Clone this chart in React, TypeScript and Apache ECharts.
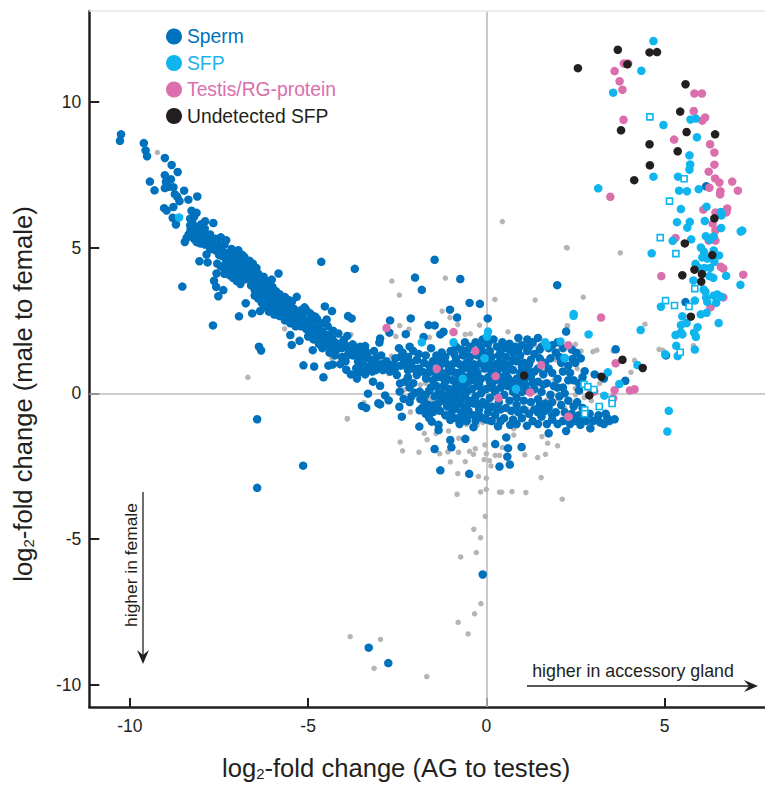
import React, { useEffect, useRef } from "react";
import * as echarts from "echarts";

const xTicks = [-10, -5, 0, 5];
const yTicks = [-10, -5, 0, 5, 10];

const undetected = [[3.69,11.78],[4.58,11.69],[4.79,11.7],[3.96,11.28],[2.57,11.15],[5.59,10.6],[5.44,9.66],[3.78,9.02],[5.62,8.96],[6.42,8.88],[4.58,8.54],[5.37,8.3],[4.59,7.82],[4.15,7.31],[6.4,6.0],[5.57,5.14],[6.34,4.74],[5.84,4.24],[6.05,4.09],[5.5,4.05],[6.03,3.83],[5.74,2.63],[3.82,1.15],[4.39,0.87],[3.23,0.57],[2.89,-0.07],[1.06,0.61]];

const sfpSquares = [[4.59,9.48],[5.55,7.36],[5.14,6.59],[4.88,5.34],[5.32,4.79],[5.85,3.59],[5.03,3.18],[5.28,3.01],[5.69,2.98],[5.44,1.41],[2.74,0.31],[2.85,0.23],[3.02,0.13],[3.53,-0.21],[3.53,-0.35],[3.17,-0.45],[2.76,-0.57],[2.76,-0.7]];

const sfp = [[4.69,12.08],[4.35,11.06],[3.56,10.31],[4.97,9.2],[5.73,9.39],[5.88,9.42],[5.91,8.78],[5.7,8.16],[5.72,7.85],[5.7,7.67],[4.69,7.43],[5.38,7.43],[3.14,7.03],[5.41,6.95],[5.63,6.93],[5.96,7.0],[5.46,6.32],[6.18,6.4],[6.58,6.22],[6.6,6.1],[5.35,5.87],[5.71,5.88],[5.64,5.68],[6.13,5.91],[6.59,5.67],[7.14,5.55],[7.18,5.58],[5.23,5.23],[5.75,5.28],[6.16,5.39],[6.38,5.38],[6.27,5.27],[6.02,5.0],[4.64,4.8],[6.11,4.85],[6.38,4.9],[6.53,4.73],[6.06,4.66],[6.2,4.62],[5.87,4.44],[6.4,4.51],[5.96,4.3],[6.12,4.3],[6.28,4.3],[6.73,4.03],[6.26,4.02],[6.37,3.96],[5.81,3.87],[7.13,3.72],[6.1,3.56],[6.15,3.48],[6.38,3.35],[6.48,3.39],[6.6,3.31],[6.17,3.28],[5.85,3.18],[6.45,3.1],[6.2,3.14],[4.9,2.97],[6.18,2.76],[6.02,2.71],[5.5,2.64],[5.62,2.41],[5.46,2.34],[6.52,2.41],[5.93,2.27],[4.33,2.17],[5.46,2.09],[5.31,2.0],[5.5,2.02],[5.83,2.08],[5.88,1.94],[2.45,2.72],[2.45,2.66],[2.87,2.02],[5.33,1.63],[5.85,1.5],[5.02,1.34],[5.37,1.28],[4.24,0.97],[3.41,0.72],[3.73,0.32],[3.31,-0.08],[5.12,-0.6],[5.08,-1.31],[2.2,1.2],[-8.62,6.03],[-1.81,1.75],[-0.92,1.75],[0.05,2.12],[0.02,1.95],[-0.05,1.2],[-0.66,0.5],[0.83,0.15],[1.7,1.62],[1.65,1.75],[2.08,1.78],[2.2,1.22]];

const testis = [[3.86,11.31],[3.98,11.31],[3.6,11.05],[3.74,10.7],[3.82,10.41],[5.84,10.28],[6.05,10.28],[5.82,9.68],[6.14,9.46],[6.06,9.35],[3.85,9.38],[5.27,8.7],[6.28,8.54],[6.4,8.26],[6.4,7.84],[6.24,7.6],[6.42,7.37],[6.54,7.23],[6.9,7.26],[6.26,7.05],[7.06,6.95],[6.57,6.93],[6.56,6.82],[3.48,6.74],[6.09,6.3],[6.76,6.34],[6.43,6.2],[6.74,6.21],[5.31,5.33],[4.91,4.02],[7.21,4.07],[6.58,4.34],[6.65,4.28],[6.65,3.29],[6.29,2.95],[3.22,2.6],[3.63,1.03],[3.6,0.11],[4.03,0.1],[4.16,0.14],[3.03,0.06],[3.56,-0.17],[2.31,-0.8],[6.35,5.82],[6.43,5.59],[6.24,5.24],[6.43,5.24],[-2.8,2.24],[-1.39,0.84],[-0.92,2.1],[-0.31,1.45],[0.26,0.59],[1.54,0.97],[1.23,0.03],[0.34,-0.16],[2.3,1.65],[2.3,-0.8]];

const other = [[-9.23,8.26],[-6.69,0.55],[0.45,5.89],[2.25,5.0],[-3.9,-0.86],[2.27,4.99],[3.76,4.82],[2.72,3.3],[4.45,2.37],[2.28,2.32],[2.5,1.68],[2.29,1.63],[2.99,1.43],[3.1,1.48],[3.56,1.45],[4.85,1.51],[4.95,1.48],[5.81,1.64],[4.16,1.13],[4.06,0.72],[3.18,0.34],[2.66,1.45],[-0.82,-3.46],[-0.16,-3.38],[0,-3.29],[0.37,-3.39],[-0.03,-4.22],[-0.35,-4.66],[-0.16,-4.95],[-0.28,-5.46],[-0.72,-5.61],[-0.15,-7.21],[-0.33,-7.56],[-0.79,-7.85],[-0.51,-8.25],[-3.82,-8.34],[-2.97,-8.44],[-3.15,-9.43],[-1.67,-9.71],[-2.65,3.85],[-1.15,3.95],[-2.44,3.37],[0.24,3.22],[1.37,3.2],[-1.24,2.82],[-1.02,2.6],[-4.41,2.27],[-5.66,2.21],[-3.8,2.02],[-2.43,2.32],[-2.17,2.2],[-2.54,1.95],[-1.6,1.92],[-0.59,2.02],[-0.8,2.36],[-0.19,2.34],[-0.45,2.04],[0.61,2.11],[-4.34,1.22],[-4.1,1.2],[-2.66,1.28],[-2.74,0.68],[-3.9,-0.88],[-3.43,-0.32],[-2.13,-0.64],[-1.74,-1.37],[-1.66,-1.59],[-2.42,-1.67],[-2.35,-1.97],[-1.89,-2.02],[-1.41,-1.38],[-1.06,-1.29],[-0.77,-1.54],[-1.31,-2.07],[-1.08,-2.01],[-0.78,-2.02],[-0.47,-1.99],[-0.31,-1.9],[-0.36,-2.09],[-0.04,-1.77],[0,-2.07],[-0.06,-2.27],[0.09,-2.31],[0.13,-2.49],[0.25,-2.13],[0.37,-2.13],[0.45,-1.86],[0.77,-1.43],[1.08,-2.11],[1.44,-2.2],[1.66,-2.09],[2.0,-1.8],[1.72,-1.71],[1.56,-1.48],[-1.01,-2.35],[-0.59,-2.34],[-0.8,-2.75],[-0.22,-2.85],[0,-2.91],[1.54,-2.89],[0.43,-3.39],[0.72,-3.37],[1.11,-3.4],[2.13,-3.63],[-1.85,0.29],[-1.7,0.34],[1.7,-0.23],[2.03,-0.2],[2.5,0.17],[2.5,-0.05],[2.31,1.63],[2.27,2.32],[-0.56,-1.06],[-0.26,-1.09],[0.07,-0.99],[0.77,-1.21],[1.61,0.75],[1.9,0.45],[1.15,-0.55],[0.9,1.75],[1.35,1.65],[-0.1,-1.0],[-1.3,0.15],[2.9,0.1],[2.95,-0.25],[2.65,0.05],[2.75,-0.15],[2.55,0.85],[1.95,1.15],[-2.3,0.12],[-1.55,-0.2],[2.2,-0.5]];

const sperm = [[-10.25,8.88],[-10.28,8.66],[-9.61,8.58],[-9.56,8.33],[-9.52,8.13],[-9.02,8.07],[-8.83,7.83],[-8.66,7.59],[-9.02,7.48],[-8.85,7.34],[-9.44,7.26],[-8.99,7.25],[-8.92,7.08],[-9.02,7.04],[-8.78,7.07],[-9.31,6.96],[-8.48,6.95],[-8.74,6.83],[-8.67,6.74],[-8.11,6.75],[-8.36,6.64],[-8.61,6.59],[-8.78,6.39],[-9.04,6.35],[-8.97,6.27],[-8.27,6.26],[-8.13,6.19],[-8.8,6.02],[-8.31,5.99],[-8.2,6.05],[-7.89,5.9],[-7.66,5.84],[-8.71,5.79],[-8.31,5.76],[-7.95,5.8],[-7.45,5.35],[-8.41,5.33],[-8.46,5.19],[-8.13,5.19],[-7.71,5.29],[-8.03,5.14],[-7.68,5.08],[-7.61,4.91],[-7.85,4.76],[-8.05,4.53],[-7.82,4.49],[-7.38,4.85],[-6.96,4.91],[-6.79,4.68],[-7.02,4.75],[-6.55,4.45],[-7.57,4.11],[-7.64,3.86],[-7.58,3.65],[-7.38,3.54],[-7.52,3.33],[-8.53,3.66],[-5.83,4.11],[-6.02,3.9],[-6.75,3.09],[-6.94,2.64],[-6.57,2.74],[-6.35,2.82],[-7.67,2.33],[-6.32,1.47],[-6.38,1.6],[-6.43,-0.89],[-5.14,-2.48],[-6.43,-3.24],[-3.3,-8.72],[-2.75,-9.25],[-0.1,-6.21],
[-8.3,5.6],[-8.2,5.5],[-8.25,5.85],[-8.15,5.7],[-8.05,5.6],[-8.1,5.45],[-8.0,5.8],[-7.95,5.5],[-8.35,5.45],[-7.9,5.65],[-8.2,5.3],[-8.0,5.25],[-7.85,5.35],[-7.8,5.15],[-7.7,5.1],[-7.6,5.05],[-7.75,4.95],[-7.55,4.9],[-7.45,4.95],[-7.5,4.75],[-7.4,4.7],[-7.3,4.8],[-7.25,4.65],[-7.3,4.5],[-7.2,4.55],[-7.1,4.65],[-7.15,4.4],[-7.05,4.5],[-7.0,4.35],[-6.95,4.6],[-6.9,4.3],[-6.85,4.45],[-7.1,4.2],[-7.0,4.1],[-6.9,4.05],[-6.8,4.2],[-6.75,4.1],[-6.7,4.3],[-6.65,4.0],[-6.8,3.9],[-6.6,3.85],[-6.55,4.1],[-6.5,3.95],[-6.45,3.8],[-6.6,3.7],[-6.4,3.65],[-6.5,3.55],[-6.3,3.75],[-6.35,3.5],[-6.25,3.6],[-6.2,3.4],[-6.3,3.3],[-6.15,3.55],[-6.1,3.3],[-6.05,3.45],[-6.0,3.2],[-6.15,3.15],[-5.95,3.35],[-5.9,3.1],[-6.05,3.0],[-5.85,3.25],[-5.8,3.0],[-5.75,2.9],[-5.9,2.85],[-5.7,3.1],[-5.65,2.8],[-5.55,2.95],[-5.6,2.65],[-5.5,2.75],[-5.4,2.9],[-5.45,2.55],[-5.35,2.6],[-5.3,2.75],[-5.32,3.31],[-5.05,2.85],[-5.25,2.45],[-5.15,2.6],[-5.2,2.3],[-5.1,2.4],[-5.0,2.5],[-5.05,2.2],[-4.95,2.3],[-4.85,2.4],[-4.9,2.1],[-4.8,2.2],[-4.75,2.0],[-4.7,2.25],[-4.65,1.95],[-4.6,2.1],[-4.55,1.8],[-4.5,2.0],[-4.45,1.65],[-4.4,1.85],[-4.35,1.6],[-4.25,1.75],[-4.2,1.5],[-4.1,1.7],[-4.05,1.55],[-3.95,1.65],
[-7.9,5.1],[-7.75,5.45],[-7.6,5.3],[-7.55,5.15],[-7.35,5.1],[-7.3,5.25],[-7.15,4.95],[-7.2,4.75],[-7.05,4.85],[-7.55,4.45],[-7.45,4.35],[-7.35,4.3],[-7.25,4.25],[-7.35,4.1],[-7.2,4.05],[-7.1,3.95],[-7.0,3.85],[-6.9,3.75],[-6.85,4.75],[-6.75,4.45],[-6.65,4.55],[-6.6,4.25],[-6.45,4.3],[-6.4,4.1],[-6.35,3.95],[-6.25,4.0],[-6.15,3.85],[-6.1,3.7],[-6.0,3.65],[-5.9,3.5],[-5.8,3.4],[-5.65,3.3],[-5.55,3.2],[-5.45,3.15],[-6.5,3.35],[-6.4,3.25],[-6.3,3.1],[-6.2,2.95],[-6.1,2.8],[-5.95,2.7],[-5.8,2.65],[-5.65,2.5],[-5.5,2.4],[-5.35,2.3],[-5.2,2.85],[-5.1,2.95],[-4.95,2.75],[-4.85,2.65],[-4.75,2.55],[-4.6,2.4],[-4.45,2.3],[-4.3,2.15],[-4.15,2.05],[-5.0,1.95],[-4.85,1.85],[-4.7,1.7],[-4.6,1.55],[-4.4,1.4],[-4.25,1.3],[-4.05,1.25],[-3.85,1.45],[-3.7,1.5],[-3.55,1.4],[-3.35,1.4],[-3.15,1.45],[-2.95,1.3],[-2.8,1.1],[-2.75,0.95],[-3.3,0.9],[-3.45,0.75],[-3.6,0.7],[-3.8,0.65],[-3.95,1.1],[-4.1,1.0],
[-5.5,2.0],[-5.24,1.8],[-5.46,1.66],[-4.87,1.48],[-5.13,0.96],[-4.83,0.92],[-4.43,0.95],[-4.31,0.99],[-4.57,0.55],[-3.93,0.81],[-3.65,0.86],[-3.63,0.51],[-3.4,0.65],[-3.18,0.4],[-2.98,0.26],[-3.32,-0.01],[-3.49,-0.43],[-3.37,-0.5],[-3.03,-0.34],[-2.98,-0.38],[-2.84,-0.07],[-2.74,-0.24],[-2.43,0.06],[-2.32,-0.19],[-2.44,-0.46],[-2.37,-0.8],[-2.56,0.86],[-2.51,0.63],[-2.42,0.34],[-2.28,0.4],[-1.95,0.63],[-1.69,0.51],[-2.0,0.02],[-1.87,0.06],[-1.87,-0.58],[-1.62,-0.4],[-1.48,-0.63],
[-4.63,4.51],[-3.69,4.27],[-1.45,4.58],[-2.0,3.97],[-0.73,3.92],[-1.81,3.55],[1.99,3.71],[-0.47,3.1],[-0.18,3.07],[-1.02,2.87],[-0.82,2.6],[0.04,2.57],[-2.12,2.57],[-3.88,2.65],[-3.78,2.57],[-2.7,2.5],[-4.53,2.98],[-4.33,2.82],[-4.48,2.53],[-4.8,2.63],[-1.62,2.34],[-1.45,2.33],[-1.2,2.11],[-1.29,2.02],[-1.76,1.93],[-2.26,2.03],[-2.72,2.08],[-2.98,1.88],[-3.0,1.74],[-3.75,1.68],[-3.54,1.6],[-3.4,1.62],[-3.9,1.97],[-4.0,1.83],[-4.38,2.02],[-4.33,1.88],
[-3.9,1.3],[-3.75,1.3],[-3.6,1.1],[-3.5,1.2],[-3.45,1.0],[-3.3,1.2],[-3.2,1.05],[-3.1,1.2],[-3.05,0.95],[-2.95,1.0],[-3.55,0.95],[-3.65,1.35],[-3.1,0.8],[-3.2,0.75],[-2.9,0.8],[-2.7,0.75],[-2.6,1.0],[-2.4,0.95],[-2.3,1.1],[-2.2,1.25],[-2.45,1.55],[-2.35,1.4],[-2.15,1.6],[-2.05,1.45],[-1.9,1.35],[-1.95,1.15],[-2.1,1.05],[-1.7,1.3],[-1.55,1.55],[-1.4,1.3],[-1.25,1.4],[-1.75,1.05],[-1.6,0.95],[-1.5,1.1],[-2.2,0.8],[-2.05,0.85],[-1.4,0.55],[-1.25,0.7],[-1.3,0.95],[-1.15,1.05],[-1.55,0.2],[-1.4,0.25],
[-2.55,1.2],[-2.4,1.25],[-2.25,0.95],[-2.2,0.55],[-2.05,0.35],[-1.9,0.85],[-1.8,0.75],[-1.65,0.7],[-1.55,0.75],[-1.5,0.45],[-1.35,1.15],[-1.2,0.25],[-1.15,0.4],[-1.35,0.0],[-1.7,-0.05],[-1.75,-0.25],[-1.6,-0.55],[-1.45,-0.4],[-1.8,-0.5],[-2.15,-0.3],[-1.25,-0.15],[-1.1,-0.1],[-0.95,-0.15],[-0.8,-0.15],[-0.6,-0.1],[-0.35,-0.35],
[-1.6,0.1],[-1.45,-0.1],[-1.25,0.0],[-1.2,-0.25],[-1.05,0.15],[-1.0,-0.05],[-1.35,-0.35],[-1.1,-0.45],[-0.95,-0.3],[-0.9,-0.55],[-1.3,-0.6],[-1.15,-0.75],[-1.0,-0.7],[-0.85,-0.85],[-1.01,-0.91],[-0.7,-0.65],[-0.7,-0.9],[-0.55,-0.85],[-0.5,-0.6],[-0.36,-1.16],[-0.35,-0.75],[-0.3,-0.95],[-0.1,-0.85],[-0.2,-0.55],[0.05,-0.65],[0.33,-1.13],[0.25,-0.75],[0.4,-0.55],[0.15,-0.95],[0.5,-0.85],[0.67,-1.08],[0.75,-0.9],[0.85,-1.05],[1.14,-1.11],[1.0,-0.85],[0.9,-0.65],[1.3,-0.95],[1.45,-1.05],[1.2,-0.7],[1.55,-0.8],[1.75,-1.37],[1.7,-1.05],[1.85,-0.9],[2.0,-1.05],[2.24,-1.29],[2.15,-0.95],[2.35,-1.05],[2.5,-0.95],[2.64,-1.08],[2.8,-0.95],[2.92,-1.2],[3.1,-0.9],[3.3,-1.05],[3.45,-0.95],[3.6,-0.89],[2.6,-0.75],[2.4,-0.7],[2.9,-0.7],[3.15,-0.75],[3.35,-0.7],[1.95,-0.65],[1.65,-0.6],[2.2,-0.65],
[-0.9,0.0],[-0.85,0.25],[-0.75,0.1],[-0.7,-0.2],[-0.6,0.3],[-0.55,0.05],[-0.45,-0.25],[-0.4,0.15],[-0.3,-0.1],[-0.25,0.25],[-0.15,0.0],[-0.1,-0.3],[0.0,0.15],[0.1,-0.15],[0.15,0.3],[0.25,0.05],[0.35,-0.3],[0.4,0.2],[0.5,-0.05],[0.6,0.25],[0.65,-0.25],[0.75,0.05],[0.85,-0.15],[0.95,0.2],[1.05,-0.25],[1.15,0.1],[1.25,-0.3],[1.35,0.15],[1.45,-0.2],[1.55,0.05],[1.65,-0.35],[1.8,-0.05],[1.9,0.25],[2.05,-0.1],[2.15,0.2],[2.3,-0.25],[2.45,0.45],[2.6,0.35],[2.7,0.55],[2.76,0.76],[3.04,0.65],[3.3,0.51],[3.9,0.43],[3.63,1.51],[2.24,2.12],[2.53,1.39],[2.42,1.18],[5.59,3.13],[5.04,1.3],[6.17,7.1],
[-0.95,0.45],[-0.85,0.7],[-0.75,0.5],[-0.65,0.85],[-0.55,0.55],[-0.45,0.8],[-0.35,0.45],[-0.25,0.7],[-0.15,0.5],[-0.05,0.85],[0.05,0.55],[0.15,0.75],[0.25,0.45],[0.35,0.85],[0.45,0.55],[0.55,0.75],[0.65,0.45],[0.75,0.8],[0.85,0.5],[0.95,0.7],[1.05,0.45],[1.15,0.85],[1.25,0.55],[1.35,0.75],[1.45,0.4],[1.6,0.65],[1.7,0.35],[1.85,0.7],[2.0,0.5],[2.15,0.75],[2.3,0.45],[1.75,0.85],[2.1,1.05],[2.3,0.95],
[-1.1,0.5],[-1.05,0.85],[-0.95,1.0],[-0.85,1.2],[-0.75,1.0],[-0.65,1.3],[-0.55,1.05],[-0.45,1.25],[-0.35,1.0],[-0.25,1.3],[-0.15,1.05],[-0.05,1.4],[0.05,1.05],[0.15,1.25],[0.25,1.0],[0.35,1.3],[0.45,1.05],[0.55,1.25],[0.65,1.0],[0.75,1.4],[0.85,1.1],[0.95,1.3],[1.05,1.05],[1.15,1.45],[1.25,1.15],[1.35,1.35],[1.5,1.2],[1.65,1.05],[1.8,1.2],[1.95,1.4],[2.05,1.25],
[-1.0,1.45],[-0.85,1.6],[-0.7,1.5],[-0.6,1.75],[-0.45,1.6],[-0.3,1.75],[-0.15,1.6],[-0.1,1.85],[0.05,1.7],[0.2,1.85],[0.3,1.6],[0.45,1.75],[0.5,1.55],[0.65,1.7],[0.8,1.6],[0.9,1.9],[1.0,1.65],[1.15,1.85],[1.3,1.75],[1.45,1.9],[1.55,1.6],[1.85,1.65],[2.0,1.75],[2.15,1.55],
[-0.75,-0.35],[-0.5,-0.35],[-0.2,-0.45],[0.15,-0.45],[0.55,-0.5],[0.85,-0.4],[1.35,-0.55],[1.75,-0.5],[-1.7,-0.7],[-1.6,-0.85],[-1.88,-1.14],[-1.53,-0.97],[-1.34,-1.08],[-1.34,-1.26],[-1.01,-1.6],[-0.59,-1.56],[-0.98,-1.85],[-1.45,-1.91],[0.25,-1.74],[0.56,-1.51],[0.61,-1.88],[0.99,-1.84],[0.59,-2.17],[0.37,-2.51],[0.66,-2.44],[-1.29,-2.64],[-0.48,-2.76],[-2.1,-0.1],[-2.15,0.2],[-1.85,-0.2],
[-0.8,0.35],[-0.65,0.15],[-0.5,0.4],[-0.4,0.65],[-0.2,0.3],[-0.1,0.1],[0.1,0.4],[0.2,0.15],[0.3,0.65],[0.45,0.35],[0.6,0.55],[0.7,0.3],[0.9,0.4],[1.0,0.05],[1.1,0.3],[1.2,0.65],[1.3,0.35],[-0.95,0.75],[-0.7,0.75],[-0.5,1.0],[-0.3,0.85],[-0.1,1.0],[0.1,0.9],[0.35,1.05],[0.55,0.95],[0.75,1.15],[1.0,0.9],[1.2,1.0],[1.45,0.85],[-0.9,1.35],[-0.55,1.45],[-0.2,1.45],[0.1,1.45],[0.4,1.45],[0.65,1.5],[0.9,1.5],[1.2,1.6],[-1.25,0.55],[-1.1,0.7],[-1.15,1.25],[-1.05,-0.25],[-0.6,-0.45],[-0.3,-0.3],[0.0,-0.4],[0.25,-0.5],[0.7,-0.6],[1.05,-0.55],[-0.85,-0.45],[-0.6,-0.7],[-0.2,-0.75],[0.0,-0.9],[0.4,-0.95],[1.45,-0.65],[1.5,-0.4],[1.85,-0.3],[2.1,-0.4],[2.45,-0.45],[2.7,-0.5],[2.55,-0.3],[3.0,-0.95],[3.2,-1.0],[3.4,-0.85],[2.7,-0.85],[2.25,-0.9],[1.85,-0.75],[-0.75,-1.05],[-0.55,-0.95],[1.6,0.3],[2.0,0.2],[2.2,0.0],[2.6,0.1],[2.35,0.7],[1.5,1.5],[1.75,1.55],[2.4,1.5],[2.5,1.05],[2.65,1.2]];

export default function App() {
  const ref = useRef<HTMLDivElement>(null);
  useEffect(() => {
    const chart = echarts.init(ref.current!, undefined, { renderer: "svg" });
    const sans = '"Liberation Sans", Arial, sans-serif';
    const scatter = (name: string, data: number[][], color: string, size: number, z: number) => ({
      name, type: "scatter", data, symbol: "circle", symbolSize: size, z,
      itemStyle: { color, opacity: 1 }, silent: true,
    });
    const nameRich = {
      t: { fontSize: 25.6, fontFamily: sans, color: "#231f20" },
      s: { fontSize: 15, fontFamily: sans, color: "#231f20", verticalAlign: "bottom", padding: [10, 0, 0, 0], lineHeight: 24 },
    };
    chart.setOption({
      animation: false,
      backgroundColor: "#fff",
      grid: { left: 89.3, right: 0, top: 11, bottom: 76, containLabel: false },
      xAxis: {
        type: "value", min: -11.14, max: 7.82, position: "bottom",
        axisLine: { show: true, onZero: false, lineStyle: { color: "#231f20", width: 2.5 } },
        axisTick: { show: true, inside: true, length: 9, lineStyle: { color: "#231f20", width: 2 }, customValues: xTicks },
        axisLabel: { fontSize: 17.5, fontFamily: sans, color: "#231f20", margin: 10, customValues: xTicks },
        splitLine: { show: false },
        name: "{t|log}{s|2}{t|-fold change (AG to testes)}",
        nameLocation: "middle", nameGap: 48,
        nameTextStyle: { rich: nameRich, fontSize: 25.6, padding: [0, 62, 0, 0] },
      },
      yAxis: {
        type: "value", min: -10.755, max: 13.11, position: "left",
        axisLine: { show: true, onZero: false, lineStyle: { color: "#231f20", width: 2.5 } },
        axisTick: { show: true, inside: true, length: 10, lineStyle: { color: "#231f20", width: 2 }, customValues: yTicks },
        axisLabel: { fontSize: 17.5, fontFamily: sans, color: "#231f20", margin: 8, customValues: yTicks },
        splitLine: { show: false },
        name: "{t|log}{s|2}{t|-fold change (male to female)}",
        nameLocation: "middle", nameGap: 53, nameRotate: 90,
        nameTextStyle: { rich: nameRich, fontSize: 25.6, padding: [0, 70, 0, 0] },
      },
      legend: {
        show: true, orient: "vertical", left: 161, top: 22, itemWidth: 16, itemHeight: 16, itemGap: 7.5,
        icon: "circle", selectedMode: false,
        itemStyle: { opacity: 1 },
        textStyle: { fontSize: 19.3, fontFamily: sans },
        data: [
          { name: "Sperm", textStyle: { color: "#0071bc" } },
          { name: "SFP", textStyle: { color: "#1ab4eb" } },
          { name: "Testis/RG-protein", textStyle: { color: "#db6eac" } },
          { name: "Undetected SFP", textStyle: { color: "#231f20" } },
        ],
      },
      series: [
        {
          ...scatter("Other", other, "#b5b5b8", 5.5, 2),
          markLine: {
            silent: true, symbol: "none", animation: false, z: 1,
            label: { show: false },
            lineStyle: { color: "#bcbcbe", width: 1.6, type: "solid" },
            data: [{ xAxis: 0 }, { yAxis: 0 }],
          },
        },
        scatter("Sperm", sperm, "#0071bc", 8.5, 3),
        scatter("Testis/RG-protein", testis, "#db6eac", 8.5, 4),
        scatter("SFP", sfp, "#0fb5ee", 8.5, 5),
        {
          name: "SFP square", type: "scatter", data: sfpSquares, symbol: "rect", symbolSize: 6, z: 5, silent: true,
          itemStyle: { color: "#fff", opacity: 1, borderColor: "#0fb5ee", borderWidth: 1.6 },
        },
        scatter("Undetected SFP", undetected, "#231f20", 8.5, 6),
      ],
      graphic: [
        { type: "line", z: 10, shape: { x1: 89, y1: 11, x2: 765, y2: 11 }, style: { stroke: "#e6e6e6", lineWidth: 1.5 } },
        { type: "line", z: 10, shape: { x1: 143, y1: 492, x2: 143, y2: 656 }, style: { stroke: "#231f20", lineWidth: 1.3 } },
        { type: "polygon", z: 10, shape: { points: [[137, 650], [143, 655], [149, 650], [143, 664]] }, style: { fill: "#231f20" } },
        { type: "text", z: 10, x: 131, y: 565, rotation: Math.PI / 2, originX: 0, originY: 0,
          style: { text: "higher in female", fontSize: 17.4, fontFamily: sans, fill: "#231f20", align: "center", verticalAlign: "middle" } },
        { type: "line", z: 10, shape: { x1: 527, y1: 686, x2: 750, y2: 686 }, style: { stroke: "#231f20", lineWidth: 1.3 } },
        { type: "polygon", z: 10, shape: { points: [[744, 680], [749, 686], [744, 692], [758, 686]] }, style: { fill: "#231f20" } },
        { type: "text", z: 10, x: 633, y: 671,
          style: { text: "higher in accessory gland", fontSize: 17.8, fontFamily: sans, fill: "#231f20", align: "center", verticalAlign: "middle" } },
      ],
    });
    return () => chart.dispose();
  }, []);
  return <div ref={ref} style={{ width: 765, height: 786, position: "absolute", left: 0, top: 0 }} />;
}
